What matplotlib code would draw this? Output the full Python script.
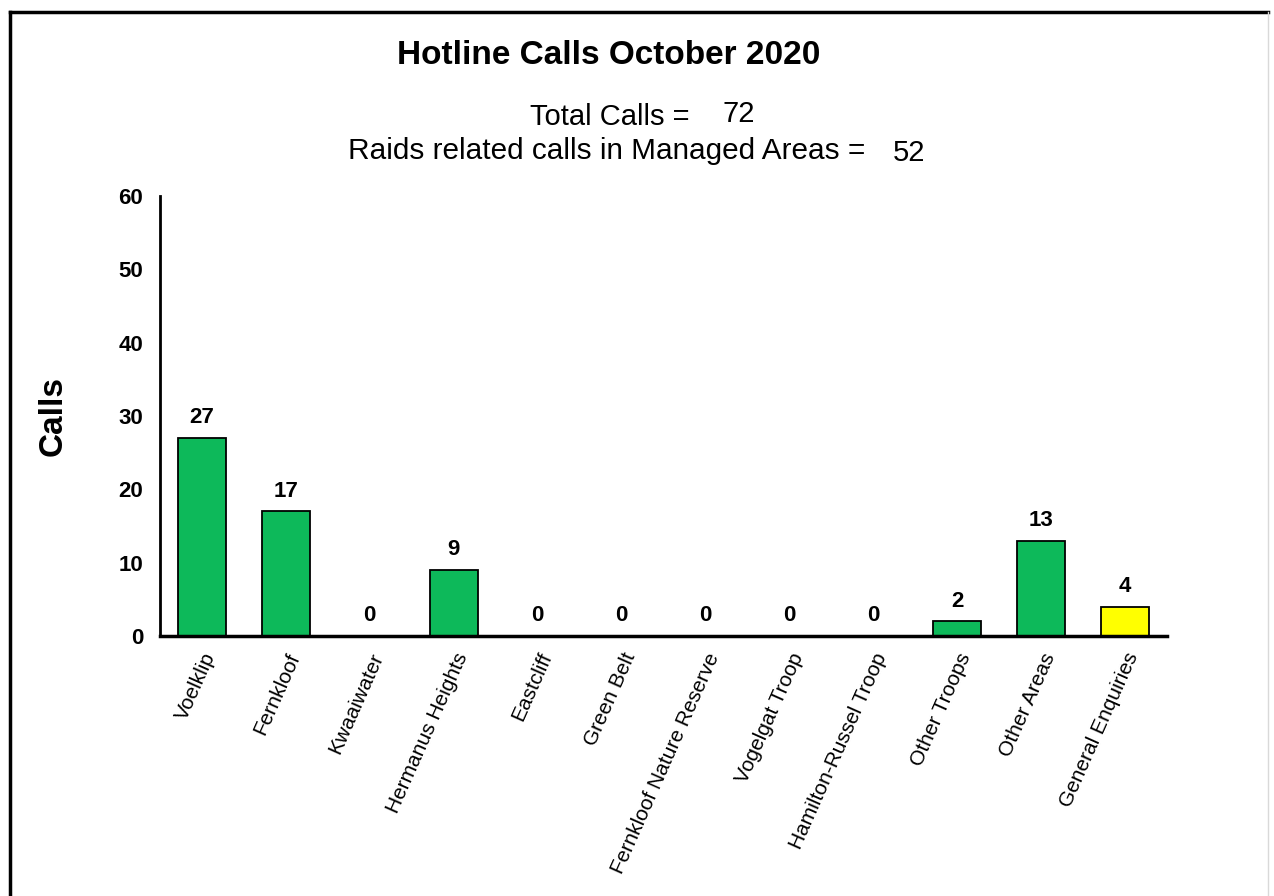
import numpy as np
import matplotlib
matplotlib.use("agg")
import matplotlib.pyplot as plt
from matplotlib.lines import Line2D

plt.rcParams["font.family"] = ["Liberation Sans", "DejaVu Sans"]

categories = ["Voelklip", "Fernkloof", "Kwaaiwater", "Hermanus Heights", "Eastcliff",
              "Green Belt", "Fernkloof Nature Reserve", "Vogelgat Troop",
              "Hamilton-Russel Troop", "Other Troops", "Other Areas", "General Enquiries"]
calls = [27, 17, 0, 9, 0, 0, 0, 0, 0, 2, 13, 4]
bar_colors = ["#0DB95A"] * 11 + ["#FFFF00"]
total_calls = 72
raid_calls = 52

W, H = 1274, 896
fig = plt.figure(figsize=(W / 100, H / 100), dpi=100)
ax = fig.add_axes([160 / W, 1 - 636 / H, (1167 - 160) / W, (636 - 196) / H])

x = np.arange(len(categories))
ax.bar(x, calls, width=0.57, color=bar_colors, edgecolor="black", linewidth=1.3, zorder=2)

for xi, v in zip(x, calls):
    ax.annotate(str(v), (xi, v), xytext=(0, 7), textcoords="offset points",
                ha="center", va="bottom", fontsize=16, fontweight="bold")

ax.set_xlim(-0.5, len(categories) - 0.5)
ax.set_ylim(0, 60)
ax.set_yticks(range(0, 61, 10))
ax.tick_params(axis="y", length=0, pad=12, labelsize=16)
for lbl in ax.get_yticklabels():
    lbl.set_fontweight("bold")
ax.set_xticks(x)
ax.set_xticklabels(categories, rotation=66, ha="right", va="top",
                   rotation_mode="anchor", fontsize=15)
ax.tick_params(axis="x", length=0, pad=10)

for s in ["top", "right"]:
    ax.spines[s].set_visible(False)
ax.spines["left"].set_linewidth(2)
ax.spines["bottom"].set_linewidth(2.5)

ax.set_ylabel("Calls", fontsize=24, fontweight="bold", labelpad=36)

fig.text(609 / W, 1 - 56 / H, "Hotline Calls October 2020", ha="center", va="center",
         fontsize=24, fontweight="bold")
fig.text(690 / W, 1 - 117 / H, "Total Calls =", ha="right", va="center", fontsize=21)
fig.text(722 / W, 1 - 114 / H, str(total_calls), ha="left", va="center", fontsize=21)
fig.text(865 / W, 1 - 151 / H, "Raids related calls in Managed Areas =", ha="right",
         va="center", fontsize=21.4)
fig.text(893 / W, 1 - 153 / H, str(raid_calls), ha="left", va="center", fontsize=21)

# outer chart frame
fig.add_artist(Line2D([10 / W, 1268 / W], [1 - 12 / H, 1 - 12 / H], color="black", lw=2.5,
                      transform=fig.transFigure))
fig.add_artist(Line2D([10 / W, 10 / W], [1 - 12 / H, 0], color="black", lw=2.5,
                      transform=fig.transFigure))
fig.add_artist(Line2D([1268 / W, 1268 / W], [1 - 12 / H, 0], color="#d9d9d9", lw=1,
                      transform=fig.transFigure))

fig.savefig("out.png", dpi=100)
